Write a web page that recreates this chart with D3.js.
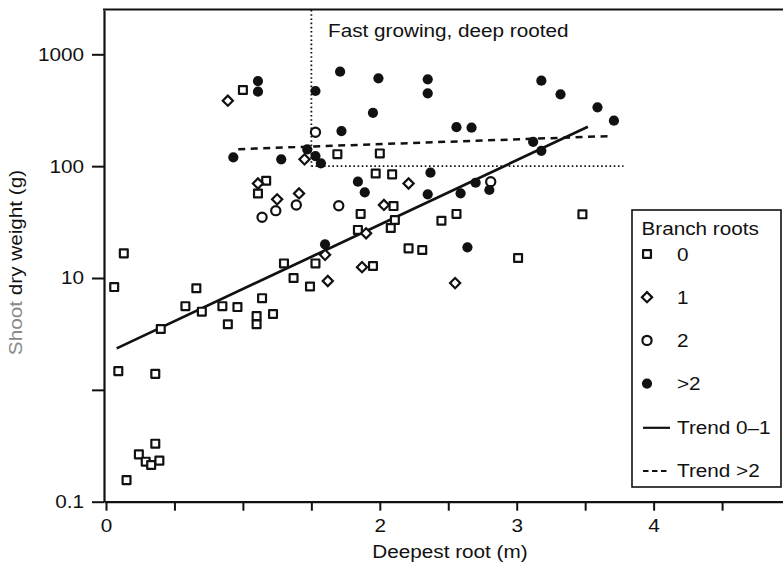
<!DOCTYPE html>
<html lang="en">
<head>
<meta charset="UTF-8">
<script src="https://d3js.org/d3.v7.min.js"></script>
<style>
body { margin: 0; background: #fff; }
svg text { font-family: "Liberation Sans", Arial, sans-serif; fill: #111; }
</style>
</head>
<body>
<script>
// Deepest root (m), shoot dry weight (g)
const branch0 = [[0.06,8.3],[0.13,16.6],[0.09,1.47],[0.36,1.39],[0.36,0.33],[0.24,0.265],[0.29,0.228],
  [0.33,0.213],[0.39,0.233],[0.15,0.156],[0.40,3.5],[0.58,5.6],[0.66,8.1],[0.70,5.0],[0.85,5.6],
  [0.96,5.5],[0.89,3.86],[1.10,4.57],[1.10,3.86],[1.14,6.6],[1.22,4.77],[1.30,13.5],[1.37,10.0],
  [1.49,8.4],[1.53,13.5],[1.00,480],[1.17,74],[1.11,57],[1.69,128],[2.00,130],[1.97,86],[2.09,84.5],
  [2.10,44],[1.86,37.4],[2.11,33],[2.08,28],[1.84,26.9],[1.95,12.8],[2.21,18.4],[2.31,17.8],
  [2.45,32.5],[2.56,37.4],[3.01,15.1],[3.48,37.1]];
const branch1 = [[0.89,385],[1.45,115],[1.11,70],[1.25,50.5],[1.41,57],[2.21,70],[2.03,45],
  [1.90,25.1],[1.60,16.1],[1.87,12.5],[1.62,9.4],[2.55,9.0]];
const branch2 = [[1.53,201],[1.14,34.9],[1.24,40],[1.39,45],[1.70,44.3],[2.81,72.6]];
const branchMore = [[1.11,577],[1.11,463],[1.53,470],[1.71,699],[1.99,610],[1.95,300],[1.72,206],
  [0.93,120],[1.28,115],[1.47,141],[1.53,123],[1.57,106],[1.84,72.6],[1.89,58.4],[1.60,20.0],
  [2.35,598],[2.35,448],[2.56,223],[2.67,221],[2.37,87.4],[2.35,56],[2.59,57.2],[2.70,71.1],
  [2.80,61.2],[2.64,18.8],[3.18,581],[3.32,439],[3.59,336],[3.71,255],[3.12,165],[3.18,137]];

const trend01 = [[0.078,2.35],[3.52,225]];
const trendMore = [[0.966,142],[3.69,186]];
const quadrantV = [[1.5,2490],[1.5,100]];
const quadrantH = [[1.5,100],[3.78,100]];

const xTicks = [0,0.5,1,1.5,2,2.5,3,3.5,4,4.5];
const xLabels = {0:'0',2:'2',3:'3',4:'4'};
const yTicks = [0.1,1,10,100,1000];
const yLabels = {0.1:'0.1',10:'10',100:'100',1000:'1000'};

const legendItems = [
  {label:'0', kind:'square'},
  {label:'1', kind:'diamond'},
  {label:'2', kind:'circle'},
  {label:'>2', kind:'dot'},
  {label:'Trend 0\u20131', kind:'solid'},
  {label:'Trend >2', kind:'dashed'}
];

const width = 783, height = 567;
const fs = 18.5, sx = 1.12;

const svg = d3.select('body').append('svg')
  .attr('width', width).attr('height', height);

const x = d3.scaleLinear().domain([-0.0146, 4.945]).range([104, 783]);
const y = d3.scaleLog().domain([0.1, 2490]).range([501.7, 10]);

// frame top
svg.append('line')
  .attr('x1', 103).attr('x2', 783).attr('y1', 9.5).attr('y2', 9.5)
  .attr('stroke', '#111').attr('stroke-width', 2.2);

const xAxis = svg.append('g')
  .attr('transform', `translate(0,${y(0.1)})`)
  .call(d3.axisBottom(x).tickValues(xTicks).tickSize(9).tickSizeOuter(0).tickPadding(8)
    .tickFormat(d => xLabels[d] || ''));
const yAxis = svg.append('g')
  .attr('transform', 'translate(104,0)')
  .call(d3.axisLeft(y).tickValues(yTicks).tickSize(12).tickSizeOuter(0)
    .tickFormat(d => yLabels[d] || ''));

[xAxis, yAxis].forEach(g => {
  g.select('.domain').attr('stroke', '#111').attr('stroke-width', 2.2);
  g.selectAll('.tick line').attr('stroke', '#111').attr('stroke-width', 2);
  g.selectAll('.tick text').attr('font-size', fs).attr('fill', '#111');
});
xAxis.selectAll('.tick text').attr('transform', `scale(${sx},1)`);
yAxis.selectAll('.tick text').attr('x', -20 / sx).attr('transform', `scale(${sx},1)`);

const line = d3.line().x(d => x(d[0])).y(d => y(d[1]));

// quadrant guides
[quadrantV, quadrantH].forEach(seg => {
  svg.append('path').attr('d', line(seg)).attr('fill', 'none')
    .attr('stroke', '#111').attr('stroke-width', 1.8).attr('stroke-dasharray', '1.6,2.6');
});

svg.append('path').attr('d', line(trendMore)).attr('fill', 'none')
  .attr('stroke', '#111').attr('stroke-width', 2.5).attr('stroke-dasharray', '7,5.5');
svg.append('path').attr('d', line(trend01)).attr('fill', 'none')
  .attr('stroke', '#111').attr('stroke-width', 2.7);

const squareSym = d3.symbol().type(d3.symbolSquare).size(62);
const diamondSym = d3.symbol().type(d3.symbolSquare).size(52);

function drawSquare(g, cx, cy) {
  g.append('path').attr('d', squareSym()).attr('transform', `translate(${cx},${cy})`)
    .attr('fill', '#fff').attr('stroke', '#111').attr('stroke-width', 2.2).attr('stroke-linejoin', 'round');
}
function drawDiamond(g, cx, cy) {
  g.append('path').attr('d', diamondSym()).attr('transform', `translate(${cx},${cy}) rotate(45)`)
    .attr('fill', '#fff').attr('stroke', '#111').attr('stroke-width', 2.2);
}
function drawCircle(g, cx, cy) {
  g.append('circle').attr('cx', cx).attr('cy', cy).attr('r', 4.6)
    .attr('fill', '#fff').attr('stroke', '#111').attr('stroke-width', 2.2);
}
function drawDot(g, cx, cy) {
  g.append('circle').attr('cx', cx).attr('cy', cy).attr('r', 5.1)
    .attr('fill', '#111');
}

const pts = svg.append('g');
branch0.forEach(d => drawSquare(pts, x(d[0]), y(d[1])));
branch1.forEach(d => drawDiamond(pts, x(d[0]), y(d[1])));
branch2.forEach(d => drawCircle(pts, x(d[0]), y(d[1])));
branchMore.forEach(d => drawDot(pts, x(d[0]), y(d[1])));

// annotation
svg.append('text')
  .attr('transform', `translate(328,36.5) scale(${sx},1)`)
  .attr('font-size', fs)
  .text('Fast growing, deep rooted');

// axis titles
svg.append('text')
  .attr('transform', `translate(450,558) scale(${sx},1)`)
  .attr('text-anchor', 'middle').attr('font-size', fs)
  .text('Deepest root (m)');

const yt = svg.append('text')
  .attr('transform', `translate(22,262.5) rotate(-90) scale(${sx},1)`)
  .attr('text-anchor', 'middle').attr('font-size', fs);
yt.append('tspan').attr('fill', '#8a8a8a').style('fill', '#8a8a8a').text('Shoot');
yt.append('tspan').text(' dry weight (g)');

// legend
const lg = svg.append('g');
lg.append('rect').attr('x', 632).attr('y', 210).attr('width', 149).attr('height', 277)
  .attr('fill', '#fff').attr('stroke', '#111').attr('stroke-width', 1.6);
lg.append('text').attr('transform', `translate(641.5,235) scale(${sx},1)`)
  .attr('font-size', fs).text('Branch roots');

const rowY = d3.scalePoint().domain(d3.range(legendItems.length)).range([254, 470]);
legendItems.forEach((it, i) => {
  const cy = rowY(i);
  if (it.kind === 'square') drawSquare(lg, 647, cy);
  if (it.kind === 'diamond') drawDiamond(lg, 647, cy);
  if (it.kind === 'circle') drawCircle(lg, 647, cy);
  if (it.kind === 'dot') drawDot(lg, 647, cy);
  if (it.kind === 'solid' || it.kind === 'dashed') {
    lg.append('line').attr('x1', 643).attr('x2', 670).attr('y1', cy + 1).attr('y2', cy + 1)
      .attr('stroke', '#111').attr('stroke-width', 2.2)
      .attr('stroke-dasharray', it.kind === 'dashed' ? '5.5,3.5' : null);
  }
  lg.append('text').attr('transform', `translate(677,${cy + 6.7}) scale(${sx},1)`)
    .attr('font-size', fs).text(it.label);
});
</script>
</body>
</html>
